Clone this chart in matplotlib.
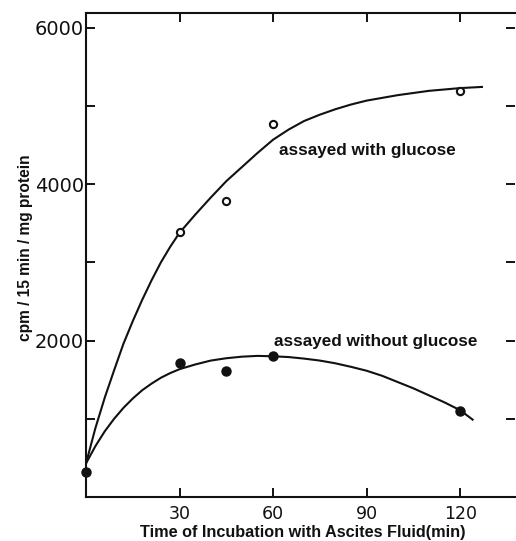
import matplotlib
matplotlib.use("Agg")
import matplotlib.pyplot as plt

time_glc = [30, 45, 60, 120]
cpm_glc = [3390, 3780, 4770, 5190]
time_noglc = [0, 30, 45, 60, 120]
cpm_noglc = [320, 1710, 1610, 1800, 1100]

# hand drawn fit curves
fit_glc_x = [0, 3, 6, 9, 12, 15, 18, 21, 24, 27, 30, 35, 40, 45, 50, 55, 60,
             65, 70, 75, 80, 85, 90, 100, 110, 120, 127]
fit_glc_y = [430, 880, 1270, 1620, 1960, 2250, 2520, 2770, 3000, 3200, 3380,
             3610, 3830, 4040, 4220, 4400, 4570, 4700, 4810, 4890, 4960, 5020,
             5070, 5140, 5195, 5230, 5245]
fit_noglc_x = [0, 3, 6, 9, 12, 15, 18, 21, 24, 27, 30, 35, 40, 45, 50, 55, 60,
               65, 70, 75, 80, 85, 90, 95, 100, 105, 110, 115, 120, 124]
fit_noglc_y = [430, 650, 840, 1000, 1140, 1260, 1365, 1450, 1525, 1585, 1635,
               1695, 1745, 1775, 1795, 1805, 1800, 1790, 1770, 1745, 1710, 1665,
               1615, 1550, 1470, 1390, 1300, 1210, 1110, 990]

x_ticks = [30, 60, 90, 120]
y_major = [2000, 4000, 6000]
y_minor = [1000, 3000, 5000]

ink = "#111111"

fig = plt.figure(figsize=(5.16, 5.41), dpi=100)
ax = fig.add_axes([0.1667, 0.0813, 0.8314, 0.8946])

ax.plot(fit_glc_x, fit_glc_y, color=ink, lw=1.5, solid_joinstyle="round")
ax.plot(fit_noglc_x, fit_noglc_y, color=ink, lw=1.5, solid_joinstyle="round")
ax.plot(time_glc, cpm_glc, "o", ms=5.2, mfc="white", mec=ink, mew=1.5, zorder=3)
ax.plot(time_noglc, cpm_noglc, "o", ms=6.5, color=ink, zorder=3, clip_on=False)

ax.set_xlim(0, 137.6)
ax.set_ylim(0, 6190)

ax.set_xticks(x_ticks)
ax.set_yticks(y_major)
ax.set_yticks(y_minor, minor=True)
ax.tick_params(axis="both", which="both", direction="in", length=6.5, width=1.4,
               colors=ink, top=True, right=True)
ax.tick_params(axis="x", labelsize=12.5, pad=6)
ax.tick_params(axis="y", labelsize=14, pad=1.5)

for side in ["left", "bottom", "top"]:
    ax.spines[side].set_linewidth(1.5)
    ax.spines[side].set_color(ink)
ax.spines["right"].set_visible(False)

ax.text(61.9, 4373, "assayed with glucose", fontsize=12.3, fontweight="bold",
        family="Liberation Sans", color=ink, va="baseline")
ax.text(60.3, 1931, "assayed without glucose", fontsize=12.3, fontweight="bold",
        family="Liberation Sans", color=ink, va="baseline")

ax.set_xlabel("Time of Incubation with Ascites Fluid(min)", fontsize=11.7,
              fontweight="bold", family="Liberation Sans", color=ink, va="center")
ax.xaxis.set_label_coords(0.506, -0.074)
ax.set_ylabel("cpm / 15 min / mg protein", fontsize=11.2, fontweight="bold",
              family="Liberation Sans", color=ink, va="center")
ax.yaxis.set_label_coords(-0.14, 0.516)

fig.savefig("out.png", dpi=100, facecolor="white")
